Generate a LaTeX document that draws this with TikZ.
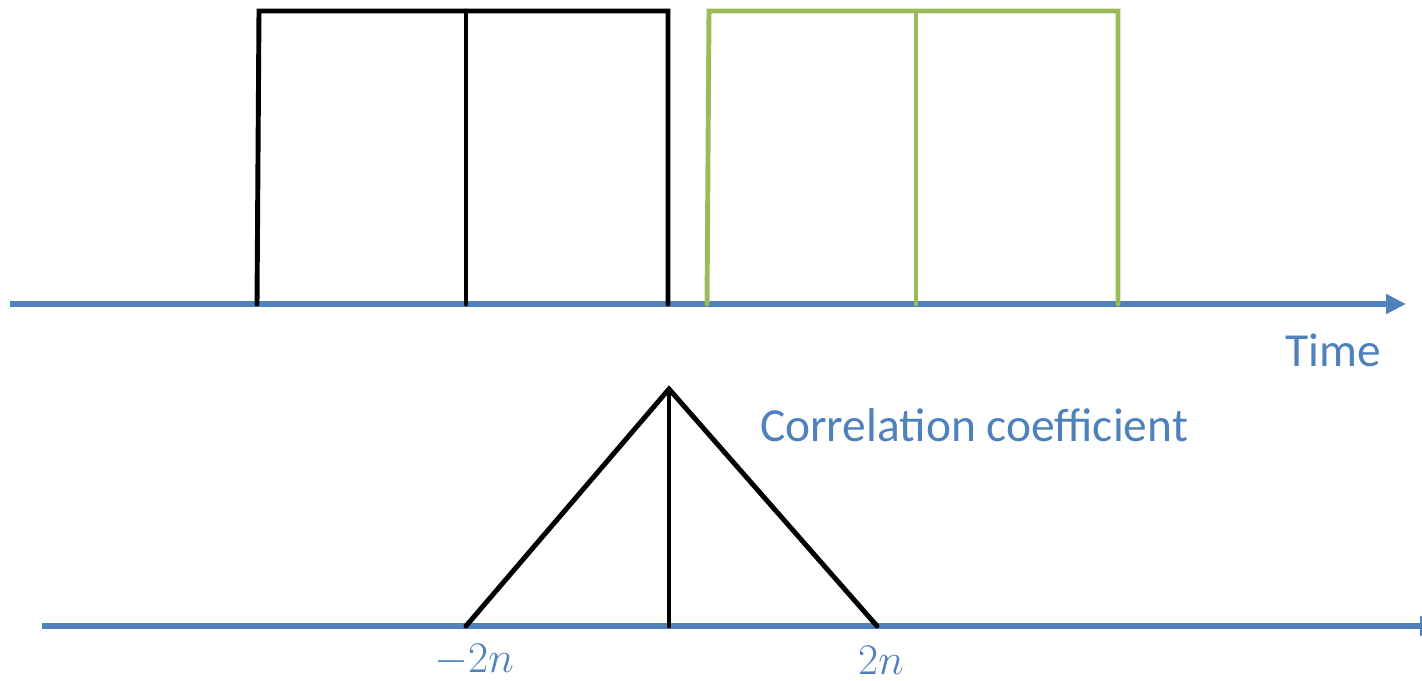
\documentclass[tikz,border=0pt]{standalone}
\usepackage{amsmath}
\usepackage{fontspec}
\setmainfont{Carlito}
\usetikzlibrary{arrows.meta}
\definecolor{axisblue}{RGB}{79,129,189}
\definecolor{pulsegreen}{RGB}{155,187,89}
\tikzset{
  axisline/.style={line width=3.2pt, axisblue,
    -{Triangle[length=0.4cm, width=0.38cm]}},
  pulse/.style={line width=2.8pt, line cap=round, line join=miter},
  bluelabel/.style={text=axisblue, font=\fontsize{27}{30}\selectfont},
  mathlabel/.style={text=axisblue, font=\fontsize{29}{32}\selectfont}
}

\begin{document}
\begin{tikzpicture}[x=0.02cm, y=-0.02cm]
  \useasboundingbox (0,0) rectangle (1422,680);
  \clip (0,0) rectangle (1422,680);
  % Time axis with two pulses
  \coordinate (tstart) at (10,304);
  \coordinate (tend) at (1406,304);
  \draw[axisline] (tstart) -- (tend);
  \draw[pulse, black] (257,304) -- (259,11) -- (668,11) -- (668,304);
  \draw[pulse, black] (466,304) -- (466,11);
  \draw[pulse, pulsegreen] (707,304) -- (709,11) -- (1118,11) -- (1118,304);
  \draw[pulse, pulsegreen] (916,304) -- (916,11);
  \node[bluelabel] (time) at (1333,350) {Time};
  % Correlation axis with triangle
  \coordinate (cstart) at (42,626);
  \coordinate (cend) at (1440,626);
  \draw[axisline] (cstart) -- (cend);
  \coordinate (apex) at (669,389);
  \coordinate (left) at (466,626);
  \coordinate (right) at (877,626);
  \draw[pulse, black] (left) -- (apex) -- (right);
  \draw[pulse, black] (apex) -- (669,626);
  \node[bluelabel] (corr) at (974,425) {Correlation coefficient};
  \node[mathlabel] (minus) at (474,660) {$-2n$};
  \node[mathlabel] (plus) at (881,660) {$2n$};
\end{tikzpicture}
\end{document}
